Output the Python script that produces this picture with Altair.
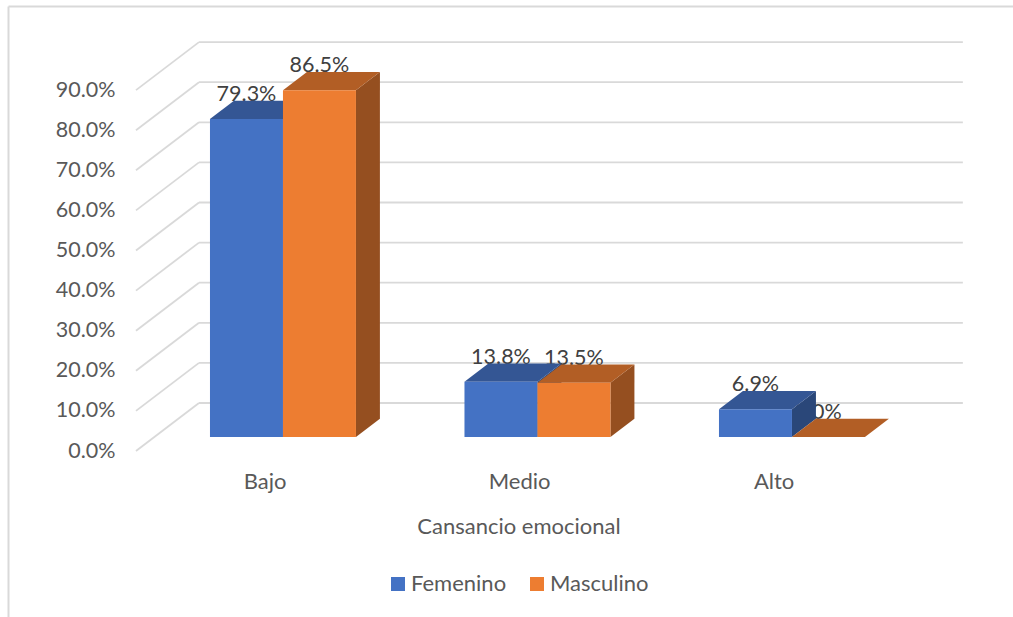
import altair as alt
import pandas as pd

categories = ["Bajo", "Medio", "Alto"]
series_names = ["Femenino", "Masculino"]
femenino = [0.793, 0.138, 0.069]
masculino = [0.865, 0.135, 0.0]
y_ticks = [0.0, 0.1, 0.2, 0.3, 0.4, 0.5, 0.6, 0.7, 0.8, 0.9]

FONT = "Lato"
GRID = "#D9D9D9"
FRONT = {"Femenino": "#4472C4", "Masculino": "#ED7D31"}
TOP = {"Femenino": "#345694", "Masculino": "#B25E25"}
SIDE = {"Femenino": "#2A4779", "Masculino": "#954F20"}

# Oblique projection: moving one full unit of depth shifts a point by
# DEPTH_X category units and DEPTH_Y value units on the page.
DEPTH_X = 0.2475
DEPTH_Y = 0.1197
WALL_LEFT = -0.5053
WALL_RIGHT = 2.7437
BAR_FRONT = 0.2917
BAR_BACK = 0.672
BAR_WIDTH = 0.2868

x_scale = alt.Scale(domain=[-0.5485, 2.9407], nice=False, zero=False)
y_scale = alt.Scale(domain=[-0.0349, 1.0748], nice=False, zero=False)

# Both axes sit on the front plane of the scene; every layer shares them
label_expr = "[" + ",".join(f"'{c}'" for c in categories) + "][datum.value]"
x_axis = alt.Axis(
    values=[0, 1, 2],
    labelExpr=label_expr,
    title="Cansancio emocional",
    domain=False,
    ticks=False,
    grid=False,
    labelFont=FONT,
    labelFontSize=22,
    labelFontWeight="normal",
    labelColor="#595959",
    labelPadding=6,
    titleFont=FONT,
    titleFontSize=22,
    titleFontWeight="normal",
    titleColor="#595959",
    titlePadding=24,
    titleX=393.5,
    titleAlign="center",
)
y_axis = alt.Axis(
    values=y_ticks,
    format=".1%",
    title=None,
    domain=False,
    ticks=False,
    grid=False,
    labelFont=FONT,
    labelFontSize=21.5,
    labelColor="#595959",
    labelPadding=10,
)


def px(field):
    return alt.X(field, type="quantitative", scale=x_scale, axis=x_axis)


def py(field):
    return alt.Y(field, type="quantitative", scale=y_scale, axis=y_axis)


# Gridlines on the floor edge and on the back wall
grid = pd.DataFrame(
    {
        "v": y_ticks,
        "x0": [WALL_LEFT] * len(y_ticks),
        "x1": [WALL_LEFT + DEPTH_X] * len(y_ticks),
        "x2": [WALL_RIGHT] * len(y_ticks),
    }
)
grid["vb"] = grid["v"] + DEPTH_Y

slant = alt.Chart(grid).mark_rule(color=GRID, strokeWidth=1.8).encode(
    x=px("x0"), x2="x1", y=py("v"), y2="vb"
)
wall = alt.Chart(grid).mark_rule(color=GRID, strokeWidth=1.8).encode(
    x=px("x1"), x2="x2", y=py("vb"), y2="vb"
)

# Outer chart border
frame_left = alt.Chart(pd.DataFrame({"a": [0]})).mark_rule(color=GRID, strokeWidth=2).encode(
    x=alt.value(-116.5), y=alt.value(-13.5), y2=alt.value(597)
)
frame_top = alt.Chart(pd.DataFrame({"a": [0]})).mark_rule(color=GRID, strokeWidth=2).encode(
    y=alt.value(-13.5), x=alt.value(-116.5), x2=alt.value(888)
)

# One row per bar, with its front-face corners
rows = []
for name, values in zip(series_names, [femenino, masculino]):
    for i, (cat, val) in enumerate(zip(categories, values)):
        left = i - BAR_WIDTH if name == "Femenino" else i
        rows.append(
            {
                "serie": name,
                "cat": cat,
                "value": val,
                "x0": left + BAR_FRONT * DEPTH_X,
                "x1": left + BAR_WIDTH + BAR_FRONT * DEPTH_X,
                "base": BAR_FRONT * DEPTH_Y,
                "top": val + BAR_FRONT * DEPTH_Y,
            }
        )
bars = pd.DataFrame(rows)
bars["xc"] = (bars["x0"] + bars["x1"]) / 2
DZ = BAR_BACK - BAR_FRONT


def side_rows(df):
    near = pd.DataFrame({"key": df["cat"], "x": df["x1"], "lo": df["base"], "hi": df["top"]})
    far = near.copy()
    far["x"] = far["x"] + DZ * DEPTH_X
    far["lo"] = far["lo"] + DZ * DEPTH_Y
    far["hi"] = far["hi"] + DZ * DEPTH_Y
    return pd.concat([near, far])


def top_rows(df):
    near = pd.DataFrame({"key": df["cat"], "y": df["top"], "a": df["x0"], "b": df["x1"]})
    far = near.copy()
    far["y"] = far["y"] + DZ * DEPTH_Y
    far["a"] = far["a"] + DZ * DEPTH_X
    far["b"] = far["b"] + DZ * DEPTH_X
    return pd.concat([near, far])


layers = [frame_left, frame_top, slant, wall]

# Value labels sit beneath the bars, so neighbouring faces can cover them
label_df = bars.copy()
label_df["shift"] = [0.0, 0.0, 0.0, 0.0, 0.0, -0.041]
label_df["xl"] = label_df["xc"] + label_df["shift"]
labels = alt.Chart(label_df).mark_text(
    font=FONT, fontSize=21.5, color="#404040", baseline="alphabetic", dy=-18
).encode(x=px("xl"), y=py("top"), text=alt.Text("value:Q", format=".1%"))
layers.append(labels)

color_enc = alt.Color(
    "serie:N",
    scale=alt.Scale(domain=series_names, range=[FRONT[s] for s in series_names]),
    legend=alt.Legend(
        orient="none",
        legendX=262,
        legendY=553,
        direction="horizontal",
        title=None,
        symbolType="square",
        symbolSize=196,
        symbolStrokeWidth=0,
        symbolOpacity=1,
        labelFont=FONT,
        labelFontSize=22,
        labelColor="#595959",
        labelOffset=2,
        columnPadding=19,
    ),
)

for name in series_names:
    sub = bars[bars["serie"] == name]
    side = alt.Chart(side_rows(sub)).mark_area(color=SIDE[name], opacity=1).encode(
        x=px("x"), y=py("lo"), y2="hi", detail="key:N"
    )
    top = alt.Chart(top_rows(sub)).mark_area(color=TOP[name], opacity=1, orient="horizontal").encode(
        y=py("y"), x=px("a"), x2="b", detail="key:N"
    )
    front = alt.Chart(sub).mark_rect().encode(
        x=px("x0"), x2="x1", y=py("base"), y2="top", color=color_enc
    )
    layers += [side, top, front]

chart = (
    alt.layer(*layers)
    .properties(
        width=888,
        height=445,
        padding={"left": 125, "top": 20, "right": 0, "bottom": 152},
        autosize=alt.AutoSizeParams(type="none"),
        background="white",
    )
    .configure_view(strokeWidth=0)
)

chart.save("out.html", embed_options={"renderer": "svg", "actions": False})
